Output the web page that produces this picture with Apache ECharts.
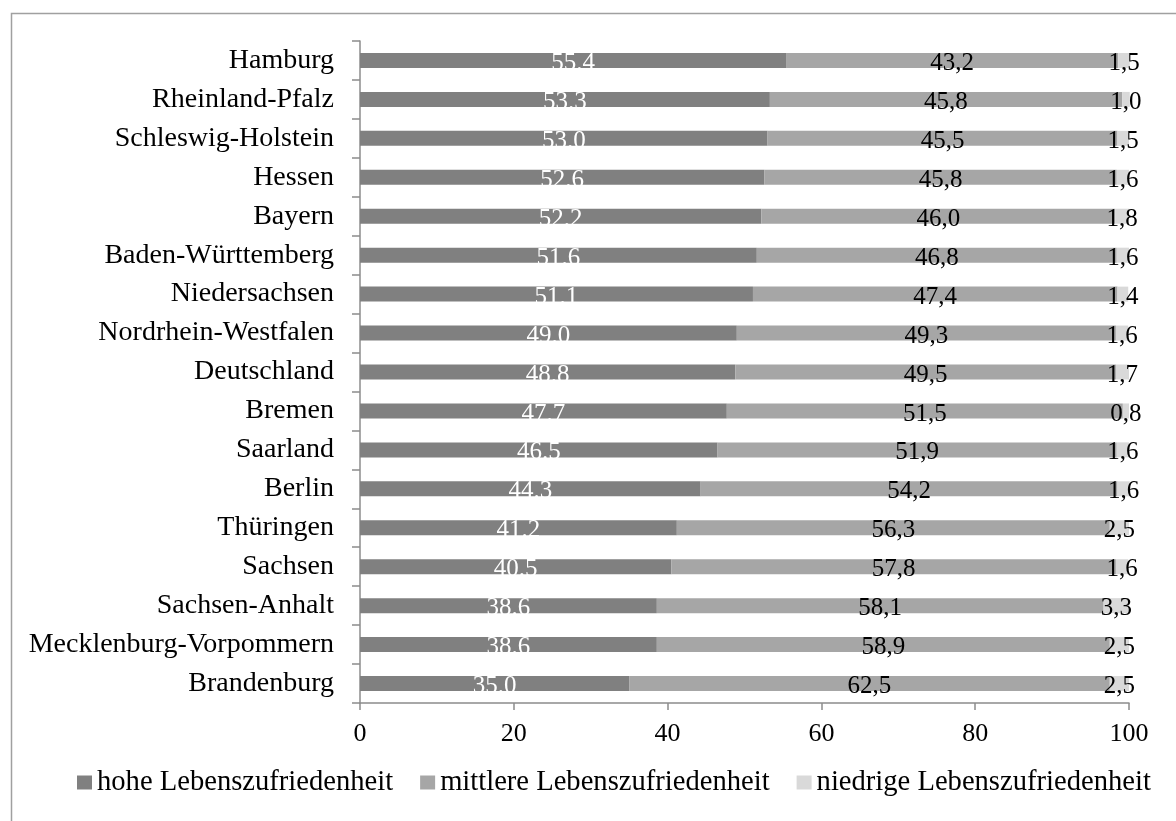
<!DOCTYPE html>
<html>
<head>
<meta charset="utf-8">
<script src="https://cdn.jsdelivr.net/npm/echarts@6/dist/echarts.min.js"></script>
<style>
html,body{margin:0;padding:0;background:#fff;}
#chart{width:1176px;height:821px;}
</style>
</head>
<body>
<div id="chart"></div>
<script>
const categories = ["Hamburg","Rheinland-Pfalz","Schleswig-Holstein","Hessen","Bayern","Baden-Württemberg","Niedersachsen","Nordrhein-Westfalen","Deutschland","Bremen","Saarland","Berlin","Thüringen","Sachsen","Sachsen-Anhalt","Mecklenburg-Vorpommern","Brandenburg"];
const hohe = [55.4,53.3,53.0,52.6,52.2,51.6,51.1,49.0,48.8,47.7,46.5,44.3,41.2,40.5,38.6,38.6,35.0];
const mittlere = [43.2,45.8,45.5,45.8,46.0,46.8,47.4,49.3,49.5,51.5,51.9,54.2,56.3,57.8,58.1,58.9,62.5];
const niedrige = [1.5,1.0,1.5,1.6,1.8,1.6,1.4,1.6,1.7,0.8,1.6,1.6,2.5,1.6,3.3,2.5,2.5];
const seriesNames = ["hohe Lebenszufriedenheit","mittlere Lebenszufriedenheit","niedrige Lebenszufriedenheit"];
const xTicks = [0,20,40,60,80,100];

const FONT = '"Liberation Serif","Times New Roman",serif';
const chart = echarts.init(document.getElementById('chart'), null, {renderer:'canvas'});

function bar(name, data, color, labelColor, fmt) {
  return {
    name: name, type: 'bar', stack: 'total', data: data,
    barWidth: 15, clip: false,
    itemStyle: {color: color},
    label: {
      show: true, position: 'inside', color: labelColor,
      fontFamily: FONT, fontSize: 25, offset: [0, 3],
      formatter: p => fmt(p.value)
    },
    emphasis: {disabled: true}
  };
}

chart.setOption({
  animation: false,
  backgroundColor: '#fff',
  graphic: [{
    type: 'rect', shape: {x: 11.5, y: 13.5, width: 1300, height: 1000},
    style: {fill: 'none', stroke: '#a0a0a0', lineWidth: 1.5}, silent: true
  }],
  grid: {left: 360, right: 47, top: 41, bottom: 118, containLabel: false},
  xAxis: {
    type: 'value', min: 0, max: 100, interval: 20,
    axisLine: {show: true, lineStyle: {color: '#8c8c8c', width: 1.5}},
    axisTick: {show: true, length: 7, lineStyle: {color: '#8c8c8c', width: 1.5}},
    splitLine: {show: false},
    axisLabel: {color: '#000', fontFamily: FONT, fontSize: 26, margin: 18,
      formatter: v => xTicks.includes(v) ? String(v) : ''}
  },
  yAxis: {
    type: 'category', data: categories, inverse: true,
    axisLine: {show: true, lineStyle: {color: '#8c8c8c', width: 1.5}},
    axisTick: {show: true, length: 8, lineStyle: {color: '#8c8c8c', width: 1.5}},
    axisLabel: {color: '#000', fontFamily: FONT, fontSize: 28, margin: 26}
  },
  legend: {
    bottom: 24, left: 77, padding: 0, itemWidth: 15, itemHeight: 14, itemGap: 27,
    icon: 'rect',
    textStyle: {color: '#000', fontFamily: FONT, fontSize: 28.6},
    data: seriesNames
  },
  series: [
    bar(seriesNames[0], hohe, '#808080', '#ffffff', v => v.toFixed(1)),
    bar(seriesNames[1], mittlere, '#a6a6a6', '#000000', v => v.toFixed(1).replace('.', ',')),
    bar(seriesNames[2], niedrige, '#d9d9d9', '#000000', v => v.toFixed(1).replace('.', ','))
  ]
});
</script>
</body>
</html>
